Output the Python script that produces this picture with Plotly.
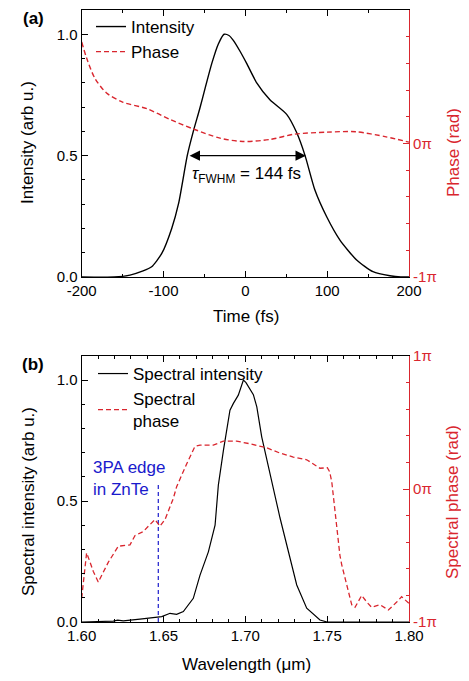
import plotly.graph_objects as go

# ---------------- Panel (a): temporal ----------------
time_fs = [-200, -160, -141, -125, -114.5, -102, -90, -81.5, -71, -63.6, -56, -49, -41, -33, -26,
           -20, -14.7, -6.5, 1.6, 13.9, 30, 50.5, 62.7, 73, 85, 99.4, 115.6, 136, 156, 176.7, 190, 200]
intensity = [0.0, 0.0, 0.008, 0.025, 0.042, 0.098, 0.2, 0.304, 0.5, 0.6, 0.69, 0.78, 0.88, 0.96, 1.0,
             0.995, 0.975, 0.93, 0.88, 0.80, 0.73, 0.67, 0.595, 0.5, 0.358, 0.248, 0.152, 0.07, 0.022, 0.005, 0.0, 0.0]

phase_t = [-200, -194, -184, -170, -150, -120, -92, -64, -31, -3, 30, 60, 100, 135, 172, 200]
phase_a = [0.76, 0.64, 0.49, 0.38, 0.31, 0.26, 0.18, 0.11, 0.04, 0.015, 0.03, 0.07, 0.085, 0.088, 0.05, 0.01]

fwhm_start, fwhm_end, fwhm_level = -70, 74, 0.5

# ---------------- Panel (b): spectral ----------------
wl_int = [1.600, 1.610, 1.6193, 1.622, 1.6254, 1.6356, 1.6438, 1.6489, 1.654, 1.658, 1.6621, 1.6682,
          1.6723, 1.6774, 1.6815, 1.6835, 1.6866, 1.6886, 1.6906, 1.6927, 1.6957, 1.6988, 1.7004,
          1.7049, 1.707, 1.710, 1.7151, 1.7192, 1.7212, 1.7262, 1.7314, 1.7375, 1.7456, 1.750, 1.800]
spec_int = [0.0, 0.002, 0.004, 0.008, 0.005, 0.012, 0.019, 0.022, 0.036, 0.032, 0.043, 0.098,
            0.194, 0.29, 0.40, 0.566, 0.71, 0.80, 0.876, 0.904, 0.938, 1.0, 0.99,
            0.94, 0.89, 0.766, 0.62, 0.49, 0.43, 0.29, 0.153, 0.057, 0.008, 0.0, 0.0]

wl_ph = [1.600, 1.602, 1.603, 1.6051, 1.6071, 1.6101, 1.6122, 1.6163, 1.6224, 1.6295, 1.6326, 1.6376,
         1.6407, 1.6448, 1.6478, 1.6509, 1.656, 1.658, 1.6642, 1.6692, 1.6723, 1.6804, 1.6866, 1.6947,
         1.7028, 1.713, 1.7212, 1.7293, 1.7375, 1.7456, 1.7501, 1.7515, 1.7528, 1.7548, 1.7568, 1.7578,
         1.7589, 1.7619, 1.765, 1.767, 1.7711, 1.7742, 1.7772, 1.7823, 1.7874, 1.7925, 1.7955, 1.800]
spec_phase = [-0.82, -0.60, -0.48, -0.55, -0.62, -0.70, -0.65, -0.55, -0.43, -0.42, -0.35, -0.32,
              -0.28, -0.23, -0.28, -0.23, -0.07, 0.017, 0.19, 0.32, 0.33, 0.33, 0.36, 0.36,
              0.34, 0.31, 0.27, 0.24, 0.22, 0.156, 0.16, 0.13, 0.055, -0.17, -0.40, -0.50,
              -0.57, -0.72, -0.87, -0.89, -0.80, -0.85, -0.89, -0.87, -0.91, -0.85, -0.81, -0.86]

edge_wl = 1.6468
edge_top = 0.57

# tick labels
t_ticks = [-200, -100, 0, 100, 200]
t_ticktext = ["-200", "-100", "0", "100", "200"]
wl_ticks = [1.60, 1.65, 1.70, 1.75, 1.80]
wl_ticktext = ["1.60", "1.65", "1.70", "1.75", "1.80"]
int_ticks = [0.0, 0.5, 1.0]
int_ticktext = ["0.0", "0.5", "1.0"]
pi_ticks = [-1, 0, 1]
pi_ticktext = ["-1π", "0π", "1π"]

RED = "#d9262e"
BLUE = "#1a1acc"
FONT = "Arial, Liberation Sans, sans-serif"
OFF = 8  # page body margin
W, H = 469 - OFF, 681 - 2 * OFF

def px(x):
    return (x - OFF) / W

def py(y):
    return 1 - (y - OFF) / H

fig = go.Figure()

fig.add_trace(go.Scatter(x=time_fs, y=intensity, mode="lines", name="Intensity",
                         line=dict(color="black", width=1.4, shape="spline", smoothing=0.6),
                         xaxis="x", yaxis="y", legend="legend"))
fig.add_trace(go.Scatter(x=phase_t, y=phase_a, mode="lines", name="Phase",
                         line=dict(color=RED, width=1.4, dash="5px,3px", shape="spline", smoothing=0.8),
                         xaxis="x", yaxis="y2", legend="legend"))

fig.add_trace(go.Scatter(x=wl_int, y=spec_int, mode="lines", name="Spectral intensity",
                         line=dict(color="black", width=1.2),
                         xaxis="x2", yaxis="y3", legend="legend2"))
fig.add_trace(go.Scatter(x=wl_ph, y=spec_phase, mode="lines", name="Spectral<br>phase",
                         line=dict(color=RED, width=1.3, dash="5px,3px"),
                         xaxis="x2", yaxis="y4", legend="legend2"))
fig.add_trace(go.Scatter(x=[edge_wl, edge_wl], y=[0, edge_top], mode="lines", showlegend=False,
                         line=dict(color=BLUE, width=1.2, dash="4px,3px"),
                         xaxis="x2", yaxis="y3"))

xdom = [px(81.7), px(409)]
dom_a = [py(277), py(10)]
dom_b = [py(622), py(356)]

common_x = dict(showline=True, linecolor="black", linewidth=1.2, mirror="ticks", automargin=False,
                ticks="inside", ticklen=6, tickwidth=1.2, tickcolor="black",
                showgrid=False, zeroline=False,
                tickfont=dict(family=FONT, size=15, color="black"))
common_yl = dict(showline=True, linecolor="black", linewidth=1.2, automargin=False,
                 ticks="inside", ticklen=6, tickwidth=1.2, tickcolor="black",
                 showgrid=False, zeroline=False, range=[0, 1.1],
                 tickvals=int_ticks, ticktext=int_ticktext,
                 minor=dict(ticks="inside", ticklen=3, dtick=0.1, tickcolor="black", tickwidth=1,
                            showgrid=False),
                 tickfont=dict(family=FONT, size=15, color="black"))
common_yr = dict(showline=True, linecolor=RED, linewidth=1.2, side="right", automargin=False,
                 ticks="inside", ticklen=6, tickwidth=1.2, tickcolor=RED,
                 showgrid=False, zeroline=False, range=[-1, 1],
                 tickvals=pi_ticks, ticktext=pi_ticktext,
                 minor=dict(ticks="inside", ticklen=3, dtick=0.2, tickcolor=RED, tickwidth=1,
                            showgrid=False),
                 tickfont=dict(family=FONT, size=15, color=RED))

fig.update_layout(
    template="none",
    width=W, height=H,
    margin=dict(l=0, r=0, t=0, b=0, pad=0),
    paper_bgcolor="white", plot_bgcolor="white",
    font=dict(family=FONT, size=15, color="black"),
    xaxis=dict(domain=xdom, anchor="y", range=[-200, 200], tickvals=t_ticks, ticktext=t_ticktext,
               minor=dict(ticks="inside", ticklen=3, dtick=50, tickcolor="black", tickwidth=1,
                          showgrid=False),
               **common_x),
    yaxis=dict(domain=dom_a, anchor="x", **common_yl),
    yaxis2=dict(overlaying="y", anchor="x", **common_yr),
    xaxis2=dict(domain=xdom, anchor="y3", range=[1.6, 1.8], tickvals=wl_ticks, ticktext=wl_ticktext,
                minor=dict(ticks="inside", ticklen=3, dtick=0.01, tickcolor="black", tickwidth=1,
                           showgrid=False),
                **common_x),
    yaxis3=dict(domain=dom_b, anchor="x2", **common_yl),
    yaxis4=dict(overlaying="y3", anchor="x2", **common_yr),
    legend=dict(x=px(91), y=py(9), xanchor="left", yanchor="top", bgcolor="rgba(0,0,0,0)",
                font=dict(family=FONT, size=17), tracegroupgap=0, itemwidth=30),
    legend2=dict(x=px(93), y=py(356), xanchor="left", yanchor="top", bgcolor="rgba(0,0,0,0)",
                 font=dict(family=FONT, size=17), tracegroupgap=0, itemwidth=30),
)

def label(x, y, text, color="black", angle=0, size=17, xanchor="center", align="center"):
    fig.add_annotation(x=px(x), y=py(y), xref="paper", yref="paper", showarrow=False,
                       xanchor=xanchor, yanchor="middle", align=align, textangle=angle,
                       text=text, font=dict(family=FONT, size=size, color=color))

# FWHM arrow
fig.add_annotation(x=fwhm_end, y=fwhm_level, ax=fwhm_start, ay=fwhm_level,
                   xref="x", yref="y", axref="x", ayref="y", text="", showarrow=True,
                   arrowside="end+start", arrowhead=2, arrowsize=1.6, arrowwidth=1.3, arrowcolor="black")
fig.add_annotation(x=2, y=0.42, xref="x", yref="y", showarrow=False, xanchor="center", yanchor="middle",
                   text="<i>τ</i><sub>FWHM</sub> = 144 fs", font=dict(family=FONT, size=17))

# panel labels
label(33, 19, "<b>(a)</b>")
label(33, 364, "<b>(b)</b>")

# axis titles
label(453, 153, "Phase (rad)", color=RED, angle=-90)
label(28, 143, "Intensity (arb u.)", angle=-90)
label(246, 316, "Time (fs)")
label(28, 502, "Spectral intensity (arb u.)", angle=-90)
label(452, 502, "Spectral phase (rad)", color=RED, angle=-90)
label(246, 664, "Wavelength (μm)")

# 3PA edge label
label(91, 478, "3PA edge<br>in ZnTe", color=BLUE, xanchor="left", align="left")

fig.write_html("out.html")
